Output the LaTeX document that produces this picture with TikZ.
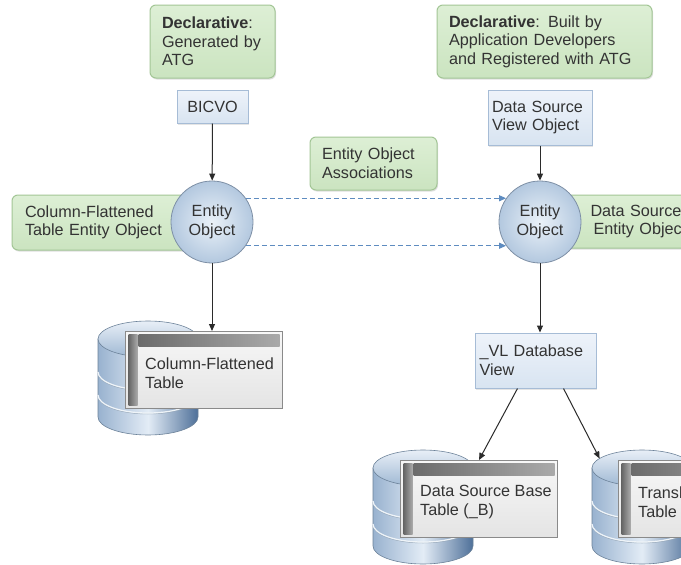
\documentclass[tikz,border=0pt]{standalone}
\usepackage{fontspec}
\setmainfont{Liberation Sans}
\usetikzlibrary{positioning,arrows.meta,shadows}
\definecolor{figtext}{HTML}{333333}
\definecolor{noteline}{HTML}{A3C696}
\definecolor{notetop}{HTML}{DDEFD5}
\definecolor{notebot}{HTML}{CBE4C0}
\definecolor{voline}{HTML}{A6BCD6}
\definecolor{votop}{HTML}{EEF3FA}
\definecolor{vobot}{HTML}{D8E4F1}
\definecolor{eoline}{HTML}{7E90A6}
\definecolor{eoin}{HTML}{EAF1F8}
\definecolor{eoout}{HTML}{B3C8DF}
\definecolor{tabline}{HTML}{8A8A8A}
\definecolor{tabtop}{HTML}{F7F7F7}
\definecolor{tabbot}{HTML}{E4E4E4}
\definecolor{bardark}{HTML}{666666}
\definecolor{barlight}{HTML}{ABABAB}
\definecolor{dbline}{HTML}{6C8299}
\definecolor{dbdark}{HTML}{4E7099}
\definecolor{dbmid}{HTML}{98B2CF}
\definecolor{dblight}{HTML}{E3ECF6}
\definecolor{dbtop}{HTML}{E8EFF7}
\definecolor{dbtopbot}{HTML}{9FB8D3}
\definecolor{flowline}{HTML}{2B2B2B}
\definecolor{assocline}{HTML}{5E8CC0}

\tikzset{
  dbstack/.pic={
    \shade[draw=dbline, line width=0.6pt, left color=dbmid, right color=dbdark, middle color=dblight]
      (0,18) -- (0,96) arc[start angle=180, end angle=0, x radius=50, y radius=18] -- (100,18) -- cycle;
    \foreach \yy in {51,74} {
      \draw[dbline!70, line width=0.5pt] (0,\yy+1) arc[start angle=180, end angle=0, x radius=50, y radius=18];
      \draw[white!85!dbmid, line width=1.2pt] (0,\yy) arc[start angle=180, end angle=0, x radius=50, y radius=18];
    }
    \shade[draw=dbline, line width=0.6pt, top color=dbtop, bottom color=dbtopbot]
      (50,18) ellipse[x radius=50, y radius=18];
    \coordinate (-lip) at (7.6,8.5);
  }
}

\begin{document}
\begin{tikzpicture}[x=1pt, y=-1pt,
  font=\fontsize{16.2}{18.6}\selectfont, text=figtext,
  note/.style={draw=noteline, line width=1pt, rounded corners=6pt, top color=notetop, bottom color=notebot,
               align=left, inner xsep=12pt, inner ysep=4pt,
               drop shadow={shadow xshift=1pt, shadow yshift=-1.5pt, opacity=0.25}},
  vobox/.style={draw=voline, line width=1pt, top color=votop, bottom color=vobot,
                align=left, inner xsep=6pt, inner ysep=4pt,
                drop shadow={shadow xshift=1pt, shadow yshift=-1.5pt, opacity=0.2}},
  eobj/.style={circle, draw=eoline, line width=0.8pt, inner color=eoin, outer color=eoout,
               minimum size=82pt, inner sep=0pt, align=center},
  dbtable/.style={draw=tabline, line width=1pt, top color=tabtop, bottom color=tabbot,
                  minimum width=157pt, minimum height=77pt, anchor=north west, inner sep=0pt,
                  path picture={
                    \shade[left color=bardark, right color=barlight]
                      ([shift={(13,3)}]path picture bounding box.north west)
                      rectangle ([shift={(-3,15)}]path picture bounding box.north east);
                    \shade[left color=bardark, right color=barlight]
                      ([shift={(3,3)}]path picture bounding box.north west)
                      rectangle ([shift={(12,-3)}]path picture bounding box.south west);
                  }},
  tabtext/.style={anchor=west, align=left, inner sep=0pt},
  flow/.style={-{Triangle[length=7pt, width=6pt]}, draw=flowline, line width=1pt},
  assoc/.style={-{Triangle[length=7pt, width=6pt]}, draw=assocline, line width=1pt, dash pattern=on 5pt off 3pt}
]
\clip (0,0) rectangle (681,565);
\fill[white] (0,0) rectangle (681,565);

% notes on top
\node[note, text width=101pt, minimum height=73pt] (declATG) at (212.5,41.5)
  {\textbf{Declarative}:\\Generated by\\ATG};
\node[note, text width=191pt, minimum height=73pt] (declDev) at (544.5,41.5)
  {\textbf{Declarative}: Built by\\Application Developers\\and Registered with ATG};
\node[note, text width=103pt, minimum height=53pt] (assocNote) at (373.5,163.5)
  {Entity Object\\Associations};

% view objects
\node[vobox, align=center, minimum width=71pt, minimum height=33pt] (bicvo) at (212.5,106.5) {BICVO};
\node[vobox, text width=96pt, inner xsep=4pt, minimum height=55pt] (dsvo) at (540,117.5) {Data Source\\View Object};
\node[vobox, text width=112pt, inner xsep=4.5pt, minimum height=55pt] (vlview) at (535.5,360.5) {\_VL Database\\View};

% entity objects with their labels behind
\node[note, text width=162pt, inner xsep=13pt, minimum height=55pt] (cfLabel) at (106,222.5)
  {Column-Flattened\\Table Entity Object};
\node[note, anchor=west, text width=110pt, inner xsep=30pt, minimum height=53pt] (dsLabel) at (560,221.5)
  {Data Source\\\hspace*{3pt}Entity Object};
\node[eobj] (ballL) at (212,222) {Entity\\Object};
\node[eobj] (ballR) at (540,222) {Entity\\Object};

% database tables
\pic (dbCF) at (98,321) {dbstack};
\node[dbtable] (tabCF) at (125,331) {};
\node[tabtext, right=20pt of tabCF.west, yshift=-3pt] (tabCFtxt) {Column-Flattened\\Table};
\pic (dbB) at (373,450) {dbstack};
\node[dbtable] (tabB) at (400,460) {};
\node[tabtext, right=20pt of tabB.west, yshift=-3pt] (tabBtxt) {Data Source Base\\Table (\_B)};
\pic (dbTR) at (592,450) {dbstack};
\node[dbtable] (tabTR) at (618,460) {};
\node[tabtext, right=20pt of tabTR.west, yshift=-3pt] (tabTRtxt) {Translation\\Table};

% connectors
\draw[flow] (bicvo) -- (ballL);
\draw[flow] (dsvo) -- (ballR);
\draw[flow] (ballL) -- (ballL |- tabCF.north);
\draw[flow] (ballR) -- (ballR |- vlview.north);
\draw[flow] ([xshift=-18pt]vlview.south) -- (tabB.north);
\draw[flow] ([xshift=28pt]vlview.south) -- (dbTR-lip);
\draw[assoc] (ballL.35) -- (ballR.145);
\draw[assoc] (ballL.-35) -- (ballR.-145);
\end{tikzpicture}
\end{document}
